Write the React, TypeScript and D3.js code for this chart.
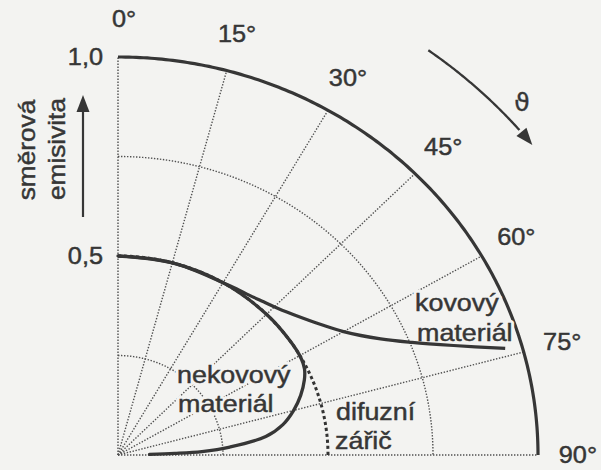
import React from "react";
import * as d3 from "d3";

// Directional emissivity ε(ϑ) read along the polar angle ϑ (degrees from the surface normal)
const nonMetalAngles = [0, 15, 30, 45, 55, 61, 64, 67, 71, 75, 79, 82.5, 85.7, 87.5, 88.3, 88.8];
const nonMetalEmissivity = [0.5, 0.5, 0.5, 0.5, 0.5, 0.499, 0.494, 0.482, 0.46, 0.433, 0.4, 0.355, 0.267, 0.2, 0.135, 0.075];

const metalAngles = [0, 15, 30, 34, 38, 42, 46, 51, 56, 60, 65, 68, 71, 73.8];
const metalEmissivity = [0.5, 0.5, 0.5, 0.504, 0.509, 0.518, 0.53, 0.553, 0.585, 0.62, 0.69, 0.755, 0.845, 0.96];

// A diffuse emitter has the same emissivity in every direction
const diffuseEmissivity = 0.5;

const spokeAngles = [15, 30, 45, 60, 75];
const ringValues = [0.25, 0.75];
const angleLabels = [0, 15, 30, 45, 60, 75, 90];
const radialTicks = [1.0, 0.5];

const W = 601;
const H = 470;
const BG = "#f3f3f1";
const INK = "#363636";
const FONT = "'Liberation Sans', Arial, Helvetica, sans-serif";

const sx = d3.scaleLinear().domain([0, 1]).range([118, 538]);
const sy = d3.scaleLinear().domain([0, 1]).range([455, 57]);

const rad = (deg: number) => (deg * Math.PI) / 180;
const polar = (deg: number, r: number): [number, number] => [
  sx(r * Math.sin(rad(deg))),
  sy(r * Math.cos(rad(deg))),
];

const lin = d3.line<[number, number]>();
const smooth = d3.line<[number, number]>().curve(d3.curveCatmullRom.alpha(0.5));

function arcPath(r: number, from = 0, to = 90, step = 0.5) {
  const pts: [number, number][] = d3
    .range(from, to + step / 2, step)
    .map((a) => polar(Math.min(a, to), r));
  return lin(pts) || "";
}

function seriesPath(angles: number[], values: number[]) {
  return smooth(angles.map((a, i) => polar(a, values[i]))) || "";
}

const fmt = (v: number) => v.toFixed(1).replace(".", ",");

function Label({ x, y, children, anchor = "start", size = 24, sxScale = 1.12, halo = true }: any) {
  const t = `translate(${x},${y}) scale(${sxScale},1)`;
  return (
    <g transform={t}>
      {halo && (
        <text
          textAnchor={anchor}
          fontFamily={FONT}
          fontSize={size}
          fill={BG}
          stroke={BG}
          strokeWidth={6}
          strokeLinejoin="round"
        >
          {children}
        </text>
      )}
      <text
        textAnchor={anchor}
        fontFamily={FONT}
        fontSize={size}
        fill={INK}
        stroke={INK}
        strokeWidth={0.45}
      >
        {children}
      </text>
    </g>
  );
}

export default function App() {
  const [ox, oy] = polar(0, 0);
  const dotted = { fill: "none", stroke: "#505050", strokeWidth: 1.4, strokeDasharray: "1.4 1.6" };

  // curved ϑ arrow outside the unit arc
  const arrowR = 1.257;
  const a0 = 36;
  const a1 = 51.7;
  const tip = polar(a1, arrowR);
  const tx = Math.cos(rad(a1)) * (sx(1) - sx(0));
  const ty = Math.sin(rad(a1)) * (sy(0) - sy(1));
  const tl = Math.hypot(tx, ty);
  const ux = tx / tl;
  const uy = ty / tl;
  const headLen = 17;
  const headHalf = 6.5;
  const base: [number, number] = [tip[0] - ux * headLen, tip[1] - uy * headLen];
  const head = [
    tip,
    [base[0] - uy * headHalf, base[1] + ux * headHalf],
    [base[0] + uy * headHalf, base[1] - ux * headHalf],
  ] as [number, number][];

  return (
    <svg
      width={W}
      height={H}
      viewBox={`0 0 ${W} ${H}`}
      style={{ position: "absolute", left: 0, top: 0, display: "block" }}
    >
      <rect width={W} height={H} fill={BG} />

      {/* dotted polar grid */}
      <line x1={ox} y1={oy} x2={sx(0)} y2={sy(1)} {...dotted} />
      <line x1={ox} y1={oy} x2={sx(1)} y2={sy(0)} {...dotted} />
      {spokeAngles.map((a) => {
        const [x, y] = polar(a, 1);
        return <line key={a} x1={ox} y1={oy} x2={x} y2={y} {...dotted} />;
      })}
      {ringValues.map((r) => (
        <path key={r} d={arcPath(r)} {...dotted} />
      ))}

      {/* unit circle */}
      <path d={arcPath(1)} fill="none" stroke={INK} strokeWidth={3.2} />

      {/* radial tick labels */}
      {radialTicks.map((v) => (
        <Label key={v} x={sx(0) - 15} y={sy(v) + 8} anchor="end" size={23} sxScale={1.1} halo={false}>
          {fmt(v)}
        </Label>
      ))}

      {/* angle labels */}
      {angleLabels.map((a) => {
        const [x, y] = polar(a, 1.095);
        return (
          <Label key={a} x={a === 0 ? x + 6 : x} y={y + 8} anchor="middle" size={23} sxScale={1.1} halo={false}>
            {a}°
          </Label>
        );
      })}

      {/* axis title with arrow */}
      <g transform="translate(35,150) rotate(-90)">
        <Label x={0} y={0} anchor="middle" size={23} sxScale={1.14} halo={false}>
          směrová
        </Label>
      </g>
      <g transform="translate(65,149) rotate(-90)">
        <Label x={0} y={0} anchor="middle" size={23} sxScale={1.14} halo={false}>
          emisivita
        </Label>
      </g>
      <line x1={83} y1={217} x2={83} y2={110} stroke={INK} strokeWidth={2.2} />
      <polygon points="83,95 76.5,112 89.5,112" fill={INK} />

      {/* direction of ϑ */}
      <path
        d={arcPath(arrowR, a0, a1 - 2.2, 0.25)}
        fill="none"
        stroke={INK}
        strokeWidth={2.3}
      />
      <polygon points={head.map((p) => p.join(",")).join(" ")} fill={INK} />
      <text
        x={522}
        y={111}
        textAnchor="middle"
        fontFamily="'DejaVu Sans', sans-serif"
        fontSize={25}
        fill={INK}
        stroke={INK}
        strokeWidth={0.4}
      >
        ϑ
      </text>

      {/* series labels */}
      <Label x={415} y={311}>kovový</Label>
      <Label x={417} y={341}>materiál</Label>
      <Label x={177} y={383}>nekovový</Label>
      <Label x={178} y={412}>materiál</Label>
      <Label x={336} y={420}>difuzní</Label>
      <Label x={335} y={449}>zářič</Label>

      {/* diffuse emitter */}
      <path
        d={arcPath(diffuseEmissivity)}
        fill="none"
        stroke="#333"
        strokeWidth={3}
        strokeDasharray="3.2 2.8"
      />

      {/* measured curves */}
      <path
        d={seriesPath(nonMetalAngles, nonMetalEmissivity)}
        fill="none"
        stroke={INK}
        strokeWidth={3.3}
        strokeLinecap="round"
      />
      <path
        d={seriesPath(metalAngles, metalEmissivity)}
        fill="none"
        stroke={INK}
        strokeWidth={3.2}
      />
    </svg>
  );
}
